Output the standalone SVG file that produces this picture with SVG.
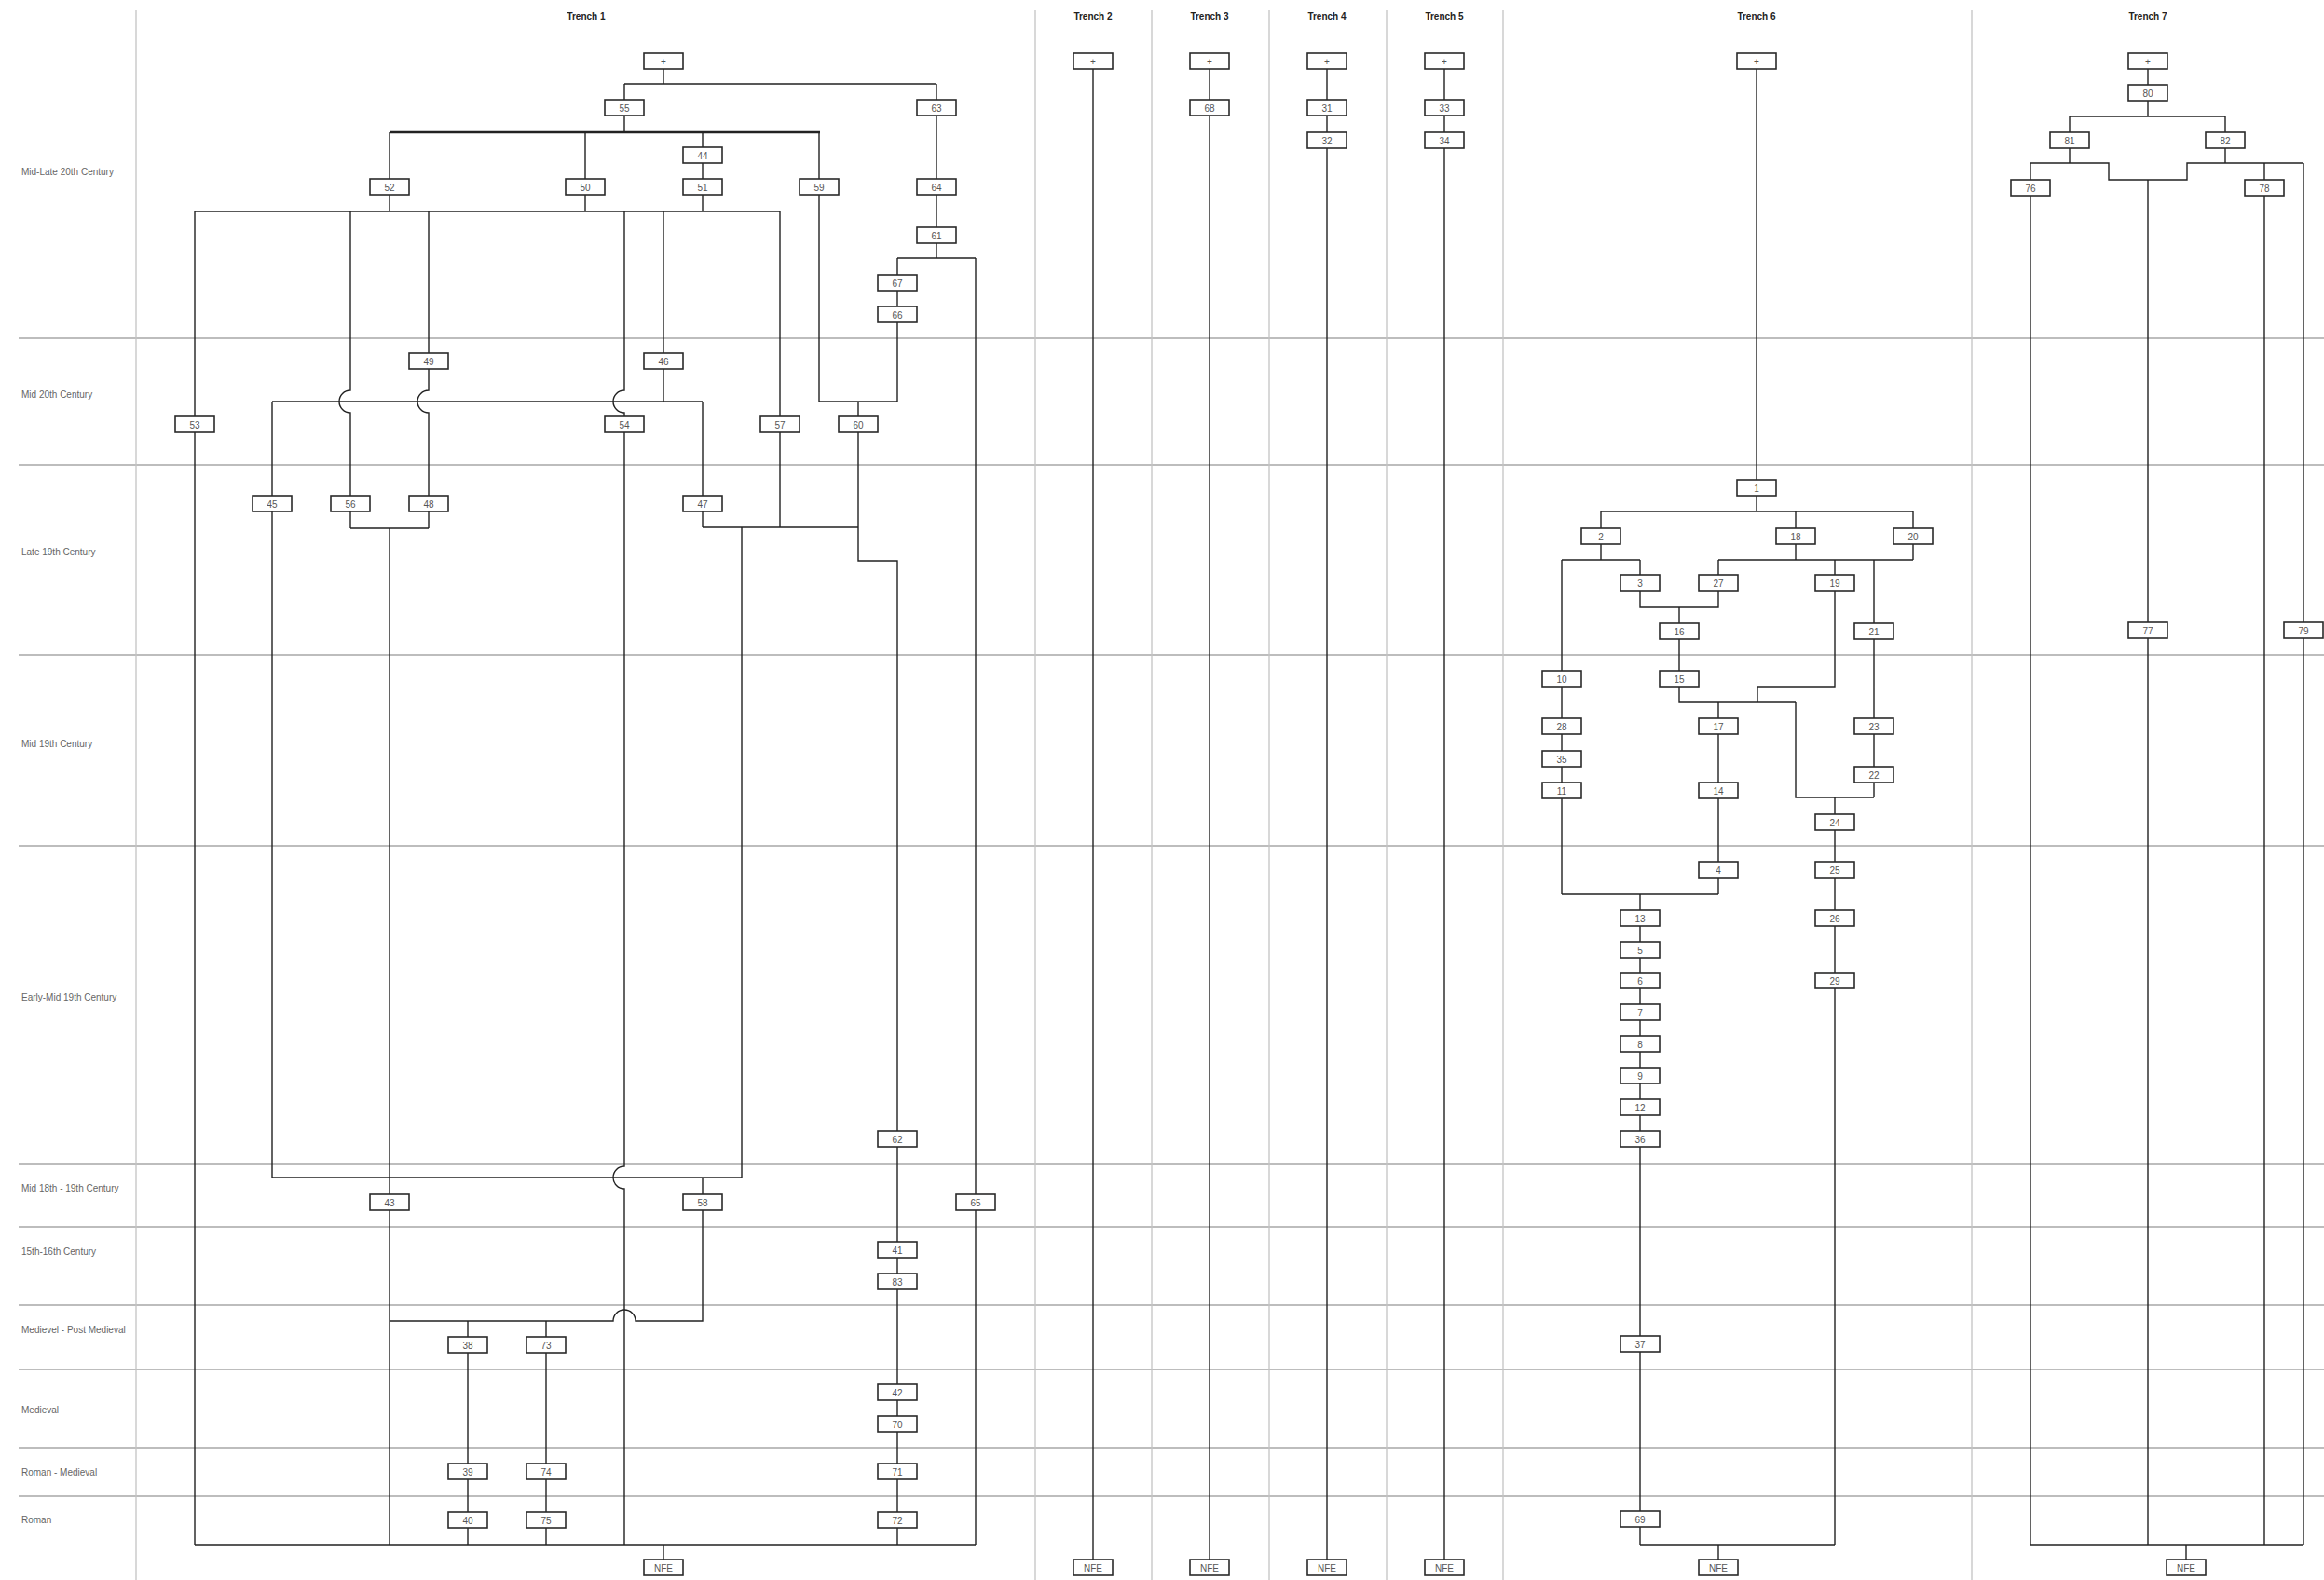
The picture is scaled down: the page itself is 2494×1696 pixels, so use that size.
<svg xmlns="http://www.w3.org/2000/svg" width="2494" height="1696" viewBox="0 0 2494 1696">
<style>
.bg{fill:#fff}
.grid{stroke:#a8a8a8;stroke-width:1.3;fill:none}
.sep{stroke:#c4c4c4;stroke-width:1.3;fill:none}
.lbl{font-family:"Liberation Sans",Arial,sans-serif;font-size:10px;fill:#666}
.title{font-family:"Liberation Sans",Arial,sans-serif;font-size:10px;font-weight:bold;fill:#222;text-anchor:middle}
.conn{stroke:#222;stroke-width:1.4;fill:none}
.thick{stroke:#222;stroke-width:2.4;fill:none}
.node rect{fill:#fff;stroke:#2a2a2a;stroke-width:1.6}
.node text{font-family:"Liberation Sans",Arial,sans-serif;font-size:10px;fill:#555;text-anchor:middle}
</style>
<rect class="bg" x="0" y="0" width="2494" height="1696"/>
<g id="grid">
<path class="grid" d="M20,363H2494M20,499H2494M20,703H2494M20,908H2494M20,1249H2494M20,1317H2494M20,1401H2494M20,1470H2494M20,1554H2494M20,1606H2494"/>
<path class="sep" d="M146,11V1696M1111,11V1696M1236,11V1696M1362,11V1696M1488,11V1696M1613,11V1696M2116,11V1696"/>
</g>
<g id="period-labels">
<text class="lbl" x="23" y="187.5">Mid-Late 20th Century</text>
<text class="lbl" x="23" y="426.5">Mid 20th Century</text>
<text class="lbl" x="23" y="595.5">Late 19th Century</text>
<text class="lbl" x="23" y="801.5">Mid 19th Century</text>
<text class="lbl" x="23" y="1073.5">Early-Mid 19th Century</text>
<text class="lbl" x="23" y="1278.5">Mid 18th - 19th Century</text>
<text class="lbl" x="23" y="1346.5">15th-16th Century</text>
<text class="lbl" x="23" y="1430.5">Medievel - Post Medieval</text>
<text class="lbl" x="23" y="1516.5">Medieval</text>
<text class="lbl" x="23" y="1583.5">Roman - Medieval</text>
<text class="lbl" x="23" y="1634.5">Roman</text>
</g>
<g id="trench-titles">
<text class="title" x="629" y="20.5">Trench 1</text>
<text class="title" x="1173" y="20.5">Trench 2</text>
<text class="title" x="1298" y="20.5">Trench 3</text>
<text class="title" x="1424" y="20.5">Trench 4</text>
<text class="title" x="1550" y="20.5">Trench 5</text>
<text class="title" x="1885" y="20.5">Trench 6</text>
<text class="title" x="2305" y="20.5">Trench 7</text>
</g>
<g id="connectors">
<path class="conn" d="M712,74V90M670,90H1005M670,90V107M1005,90V107M670,125V142"/>
<path class="thick" d="M418,142H880"/>
<path class="conn" d="M418,142V227M628,142V227M754,142V227M879,142V431M1005,125V277M963,277H1047M963,277V431M1047,277V1658M209,227H837M209,227V1658"/>
<path class="conn" d="M376,227V419A12,12 0 0 0 376,443V567M460,227V419A12,12 0 0 0 460,443V567M670,227V419A12,12 0 0 0 670,443V1252A12,12 0 0 0 670,1276V1658"/>
<path class="conn" d="M712,227V431M837,227V566M292,431H754M292,431V1264M754,431V566M879,431H963M921,431V602H963V1658"/>
<path class="conn" d="M376,567H460M418,567V1658M754,566H921M796,566V1264M292,1264H796M754,1264V1418H682A12,12 0 0 0 658,1418H418M502,1418V1658M586,1418V1658M209,1658H1047M712,1658V1674"/>
<path class="conn" d="M1173,74V1674M1298,74V1674M1424,74V1674M1550,74V1674"/>
<path class="conn" d="M1885,74V549M1718,549H2053M1718,549V567M1927,549V567M2053,549V567M1718,584V601M1676,601H1760M1676,601V960M1760,601V617M1927,584V601M2053,584V601M1844,601H2053M1844,601V617M1969,601V737H1886V754M2011,601V856"/>
<path class="conn" d="M1760,634V652H1844V634M1802,652V754H1927M1844,754V960M1927,754V856H2011M1969,856V1658M1676,960H1844M1760,960V1658M1760,1658H1969M1844,1658V1674"/>
<path class="conn" d="M2305,74V125M2221,125H2388M2221,125V142M2388,125V142M2221,159V175M2179,175H2263V193H2347V175H2472M2388,159V175M2179,175V1658M2305,193V1658M2430,175V1658M2472,175V1658M2179,1658H2472M2346,1658V1674"/>
</g>
<g id="trench1">
<g id="t1-top" class="node"><rect x="691" y="57" width="42" height="17"/><text x="712" y="69.5">+</text></g>
<g id="t1-55" class="node"><rect x="649" y="107" width="42" height="17"/><text x="670" y="119.5">55</text></g>
<g id="t1-63" class="node"><rect x="984" y="107" width="42" height="17"/><text x="1005" y="119.5">63</text></g>
<g id="t1-44" class="node"><rect x="733" y="158" width="42" height="17"/><text x="754" y="170.5">44</text></g>
<g id="t1-52" class="node"><rect x="397" y="192" width="42" height="17"/><text x="418" y="204.5">52</text></g>
<g id="t1-50" class="node"><rect x="607" y="192" width="42" height="17"/><text x="628" y="204.5">50</text></g>
<g id="t1-51" class="node"><rect x="733" y="192" width="42" height="17"/><text x="754" y="204.5">51</text></g>
<g id="t1-59" class="node"><rect x="858" y="192" width="42" height="17"/><text x="879" y="204.5">59</text></g>
<g id="t1-64" class="node"><rect x="984" y="192" width="42" height="17"/><text x="1005" y="204.5">64</text></g>
<g id="t1-61" class="node"><rect x="984" y="244" width="42" height="17"/><text x="1005" y="256.5">61</text></g>
<g id="t1-67" class="node"><rect x="942" y="295" width="42" height="17"/><text x="963" y="307.5">67</text></g>
<g id="t1-66" class="node"><rect x="942" y="329" width="42" height="17"/><text x="963" y="341.5">66</text></g>
<g id="t1-49" class="node"><rect x="439" y="379" width="42" height="17"/><text x="460" y="391.5">49</text></g>
<g id="t1-46" class="node"><rect x="691" y="379" width="42" height="17"/><text x="712" y="391.5">46</text></g>
<g id="t1-53" class="node"><rect x="188" y="447" width="42" height="17"/><text x="209" y="459.5">53</text></g>
<g id="t1-54" class="node"><rect x="649" y="447" width="42" height="17"/><text x="670" y="459.5">54</text></g>
<g id="t1-57" class="node"><rect x="816" y="447" width="42" height="17"/><text x="837" y="459.5">57</text></g>
<g id="t1-60" class="node"><rect x="900" y="447" width="42" height="17"/><text x="921" y="459.5">60</text></g>
<g id="t1-45" class="node"><rect x="271" y="532" width="42" height="17"/><text x="292" y="544.5">45</text></g>
<g id="t1-56" class="node"><rect x="355" y="532" width="42" height="17"/><text x="376" y="544.5">56</text></g>
<g id="t1-48" class="node"><rect x="439" y="532" width="42" height="17"/><text x="460" y="544.5">48</text></g>
<g id="t1-47" class="node"><rect x="733" y="532" width="42" height="17"/><text x="754" y="544.5">47</text></g>
<g id="t1-62" class="node"><rect x="942" y="1214" width="42" height="17"/><text x="963" y="1226.5">62</text></g>
<g id="t1-43" class="node"><rect x="397" y="1282" width="42" height="17"/><text x="418" y="1294.5">43</text></g>
<g id="t1-58" class="node"><rect x="733" y="1282" width="42" height="17"/><text x="754" y="1294.5">58</text></g>
<g id="t1-65" class="node"><rect x="1026" y="1282" width="42" height="17"/><text x="1047" y="1294.5">65</text></g>
<g id="t1-41" class="node"><rect x="942" y="1333" width="42" height="17"/><text x="963" y="1345.5">41</text></g>
<g id="t1-83" class="node"><rect x="942" y="1367" width="42" height="17"/><text x="963" y="1379.5">83</text></g>
<g id="t1-38" class="node"><rect x="481" y="1435" width="42" height="17"/><text x="502" y="1447.5">38</text></g>
<g id="t1-73" class="node"><rect x="565" y="1435" width="42" height="17"/><text x="586" y="1447.5">73</text></g>
<g id="t1-42" class="node"><rect x="942" y="1486" width="42" height="17"/><text x="963" y="1498.5">42</text></g>
<g id="t1-70" class="node"><rect x="942" y="1520" width="42" height="17"/><text x="963" y="1532.5">70</text></g>
<g id="t1-39" class="node"><rect x="481" y="1571" width="42" height="17"/><text x="502" y="1583.5">39</text></g>
<g id="t1-74" class="node"><rect x="565" y="1571" width="42" height="17"/><text x="586" y="1583.5">74</text></g>
<g id="t1-71" class="node"><rect x="942" y="1571" width="42" height="17"/><text x="963" y="1583.5">71</text></g>
<g id="t1-40" class="node"><rect x="481" y="1623" width="42" height="17"/><text x="502" y="1635.5">40</text></g>
<g id="t1-75" class="node"><rect x="565" y="1623" width="42" height="17"/><text x="586" y="1635.5">75</text></g>
<g id="t1-72" class="node"><rect x="942" y="1623" width="42" height="17"/><text x="963" y="1635.5">72</text></g>
<g id="t1-nfe" class="node"><rect x="691" y="1674" width="42" height="17"/><text x="712" y="1686.5">NFE</text></g>
</g>
<g id="trench2">
<g id="t2-top" class="node"><rect x="1152" y="57" width="42" height="17"/><text x="1173" y="69.5">+</text></g>
<g id="t2-nfe" class="node"><rect x="1152" y="1674" width="42" height="17"/><text x="1173" y="1686.5">NFE</text></g>
</g>
<g id="trench3">
<g id="t3-top" class="node"><rect x="1277" y="57" width="42" height="17"/><text x="1298" y="69.5">+</text></g>
<g id="t3-68" class="node"><rect x="1277" y="107" width="42" height="17"/><text x="1298" y="119.5">68</text></g>
<g id="t3-nfe" class="node"><rect x="1277" y="1674" width="42" height="17"/><text x="1298" y="1686.5">NFE</text></g>
</g>
<g id="trench4">
<g id="t4-top" class="node"><rect x="1403" y="57" width="42" height="17"/><text x="1424" y="69.5">+</text></g>
<g id="t4-31" class="node"><rect x="1403" y="107" width="42" height="17"/><text x="1424" y="119.5">31</text></g>
<g id="t4-32" class="node"><rect x="1403" y="142" width="42" height="17"/><text x="1424" y="154.5">32</text></g>
<g id="t4-nfe" class="node"><rect x="1403" y="1674" width="42" height="17"/><text x="1424" y="1686.5">NFE</text></g>
</g>
<g id="trench5">
<g id="t5-top" class="node"><rect x="1529" y="57" width="42" height="17"/><text x="1550" y="69.5">+</text></g>
<g id="t5-33" class="node"><rect x="1529" y="107" width="42" height="17"/><text x="1550" y="119.5">33</text></g>
<g id="t5-34" class="node"><rect x="1529" y="142" width="42" height="17"/><text x="1550" y="154.5">34</text></g>
<g id="t5-nfe" class="node"><rect x="1529" y="1674" width="42" height="17"/><text x="1550" y="1686.5">NFE</text></g>
</g>
<g id="trench6">
<g id="t6-top" class="node"><rect x="1864" y="57" width="42" height="17"/><text x="1885" y="69.5">+</text></g>
<g id="t6-1" class="node"><rect x="1864" y="515" width="42" height="17"/><text x="1885" y="527.5">1</text></g>
<g id="t6-2" class="node"><rect x="1697" y="567" width="42" height="17"/><text x="1718" y="579.5">2</text></g>
<g id="t6-18" class="node"><rect x="1906" y="567" width="42" height="17"/><text x="1927" y="579.5">18</text></g>
<g id="t6-20" class="node"><rect x="2032" y="567" width="42" height="17"/><text x="2053" y="579.5">20</text></g>
<g id="t6-3" class="node"><rect x="1739" y="617" width="42" height="17"/><text x="1760" y="629.5">3</text></g>
<g id="t6-27" class="node"><rect x="1823" y="617" width="42" height="17"/><text x="1844" y="629.5">27</text></g>
<g id="t6-19" class="node"><rect x="1948" y="617" width="42" height="17"/><text x="1969" y="629.5">19</text></g>
<g id="t6-16" class="node"><rect x="1781" y="669" width="42" height="17"/><text x="1802" y="681.5">16</text></g>
<g id="t6-21" class="node"><rect x="1990" y="669" width="42" height="17"/><text x="2011" y="681.5">21</text></g>
<g id="t6-10" class="node"><rect x="1655" y="720" width="42" height="17"/><text x="1676" y="732.5">10</text></g>
<g id="t6-15" class="node"><rect x="1781" y="720" width="42" height="17"/><text x="1802" y="732.5">15</text></g>
<g id="t6-28" class="node"><rect x="1655" y="771" width="42" height="17"/><text x="1676" y="783.5">28</text></g>
<g id="t6-17" class="node"><rect x="1823" y="771" width="42" height="17"/><text x="1844" y="783.5">17</text></g>
<g id="t6-23" class="node"><rect x="1990" y="771" width="42" height="17"/><text x="2011" y="783.5">23</text></g>
<g id="t6-35" class="node"><rect x="1655" y="806" width="42" height="17"/><text x="1676" y="818.5">35</text></g>
<g id="t6-22" class="node"><rect x="1990" y="823" width="42" height="17"/><text x="2011" y="835.5">22</text></g>
<g id="t6-11" class="node"><rect x="1655" y="840" width="42" height="17"/><text x="1676" y="852.5">11</text></g>
<g id="t6-14" class="node"><rect x="1823" y="840" width="42" height="17"/><text x="1844" y="852.5">14</text></g>
<g id="t6-24" class="node"><rect x="1948" y="874" width="42" height="17"/><text x="1969" y="886.5">24</text></g>
<g id="t6-4" class="node"><rect x="1823" y="925" width="42" height="17"/><text x="1844" y="937.5">4</text></g>
<g id="t6-25" class="node"><rect x="1948" y="925" width="42" height="17"/><text x="1969" y="937.5">25</text></g>
<g id="t6-13" class="node"><rect x="1739" y="977" width="42" height="17"/><text x="1760" y="989.5">13</text></g>
<g id="t6-26" class="node"><rect x="1948" y="977" width="42" height="17"/><text x="1969" y="989.5">26</text></g>
<g id="t6-5" class="node"><rect x="1739" y="1011" width="42" height="17"/><text x="1760" y="1023.5">5</text></g>
<g id="t6-6" class="node"><rect x="1739" y="1044" width="42" height="17"/><text x="1760" y="1056.5">6</text></g>
<g id="t6-29" class="node"><rect x="1948" y="1044" width="42" height="17"/><text x="1969" y="1056.5">29</text></g>
<g id="t6-7" class="node"><rect x="1739" y="1078" width="42" height="17"/><text x="1760" y="1090.5">7</text></g>
<g id="t6-8" class="node"><rect x="1739" y="1112" width="42" height="17"/><text x="1760" y="1124.5">8</text></g>
<g id="t6-9" class="node"><rect x="1739" y="1146" width="42" height="17"/><text x="1760" y="1158.5">9</text></g>
<g id="t6-12" class="node"><rect x="1739" y="1180" width="42" height="17"/><text x="1760" y="1192.5">12</text></g>
<g id="t6-36" class="node"><rect x="1739" y="1214" width="42" height="17"/><text x="1760" y="1226.5">36</text></g>
<g id="t6-37" class="node"><rect x="1739" y="1434" width="42" height="17"/><text x="1760" y="1446.5">37</text></g>
<g id="t6-69" class="node"><rect x="1739" y="1622" width="42" height="17"/><text x="1760" y="1634.5">69</text></g>
<g id="t6-nfe" class="node"><rect x="1823" y="1674" width="42" height="17"/><text x="1844" y="1686.5">NFE</text></g>
</g>
<g id="trench7">
<g id="t7-top" class="node"><rect x="2284" y="57" width="42" height="17"/><text x="2305" y="69.5">+</text></g>
<g id="t7-80" class="node"><rect x="2284" y="91" width="42" height="17"/><text x="2305" y="103.5">80</text></g>
<g id="t7-81" class="node"><rect x="2200" y="142" width="42" height="17"/><text x="2221" y="154.5">81</text></g>
<g id="t7-82" class="node"><rect x="2367" y="142" width="42" height="17"/><text x="2388" y="154.5">82</text></g>
<g id="t7-76" class="node"><rect x="2158" y="193" width="42" height="17"/><text x="2179" y="205.5">76</text></g>
<g id="t7-78" class="node"><rect x="2409" y="193" width="42" height="17"/><text x="2430" y="205.5">78</text></g>
<g id="t7-77" class="node"><rect x="2284" y="668" width="42" height="17"/><text x="2305" y="680.5">77</text></g>
<g id="t7-79" class="node"><rect x="2451" y="668" width="42" height="17"/><text x="2472" y="680.5">79</text></g>
<g id="t7-nfe" class="node"><rect x="2325" y="1674" width="42" height="17"/><text x="2346" y="1686.5">NFE</text></g>
</g>
</svg>
